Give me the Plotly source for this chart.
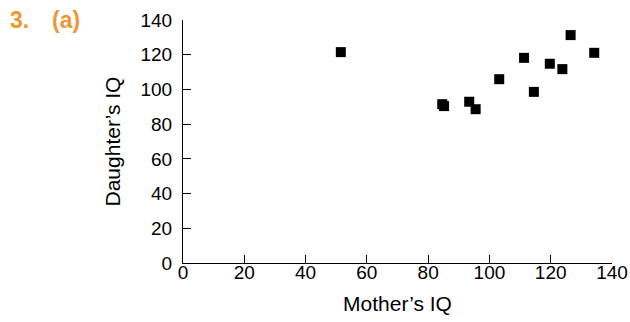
import plotly.graph_objects as go

# mother / daughter IQ pairs
mother_iq = [51.5, 126.5, 134.2, 111.3, 119.7, 123.8, 103.2, 114.5, 84.6, 85.2, 93.4, 95.5]
daughter_iq = [121.5, 131.3, 121.1, 118.2, 114.8, 111.7, 105.9, 98.6, 91.5, 90.4, 92.9, 88.6]

tick_vals = [0, 20, 40, 60, 80, 100, 120, 140]

FONT = "Liberation Sans, Arial, sans-serif"
ORANGE = "#ef9633"

fig = go.Figure()

fig.add_trace(go.Scatter(
    x=mother_iq, y=daughter_iq, mode="markers",
    marker=dict(symbol="square", size=10, color="black"),
    cliponaxis=False, showlegend=False,
))

axis_style = dict(
    range=[0, 140], tickvals=tick_vals,
    showline=True, linecolor="black", linewidth=1.2,
    ticks="inside", ticklen=8, tickwidth=1.2, tickcolor="black",
    showgrid=False, zeroline=False,
    tickfont=dict(family=FONT, size=19, color="black"),
)

fig.update_layout(
    width=630, height=322,
    margin=dict(l=183, r=18, t=20, b=59, autoexpand=False),
    paper_bgcolor="white", plot_bgcolor="white",
    font=dict(family=FONT, color="black"),
    xaxis=dict(**axis_style, title=dict(text="Mother\u2019s IQ", font=dict(size=21), standoff=14),
               ticklabelstandoff=-8),
    yaxis=dict(**axis_style, title=dict(text="Daughter\u2019s IQ", font=dict(size=21), standoff=14),
               ticklabelstandoff=6),
)

# "3.  (a)" label in the top-left corner
fig.add_annotation(text="<b>3.</b>", xref="paper", yref="paper", x=0, y=1,
                   xanchor="left", yanchor="middle", xshift=-175, yshift=0,
                   showarrow=False, font=dict(family=FONT, size=23, color=ORANGE))
fig.add_annotation(text="<b>(a)</b>", xref="paper", yref="paper", x=0, y=1,
                   xanchor="left", yanchor="middle", xshift=-133, yshift=0,
                   showarrow=False, font=dict(family=FONT, size=23, color=ORANGE))

# drop the default page margin so the figure sits at the window origin
fig.write_html("out.html", config={"displayModeBar": False},
               post_script="document.body.style.margin='0';")
